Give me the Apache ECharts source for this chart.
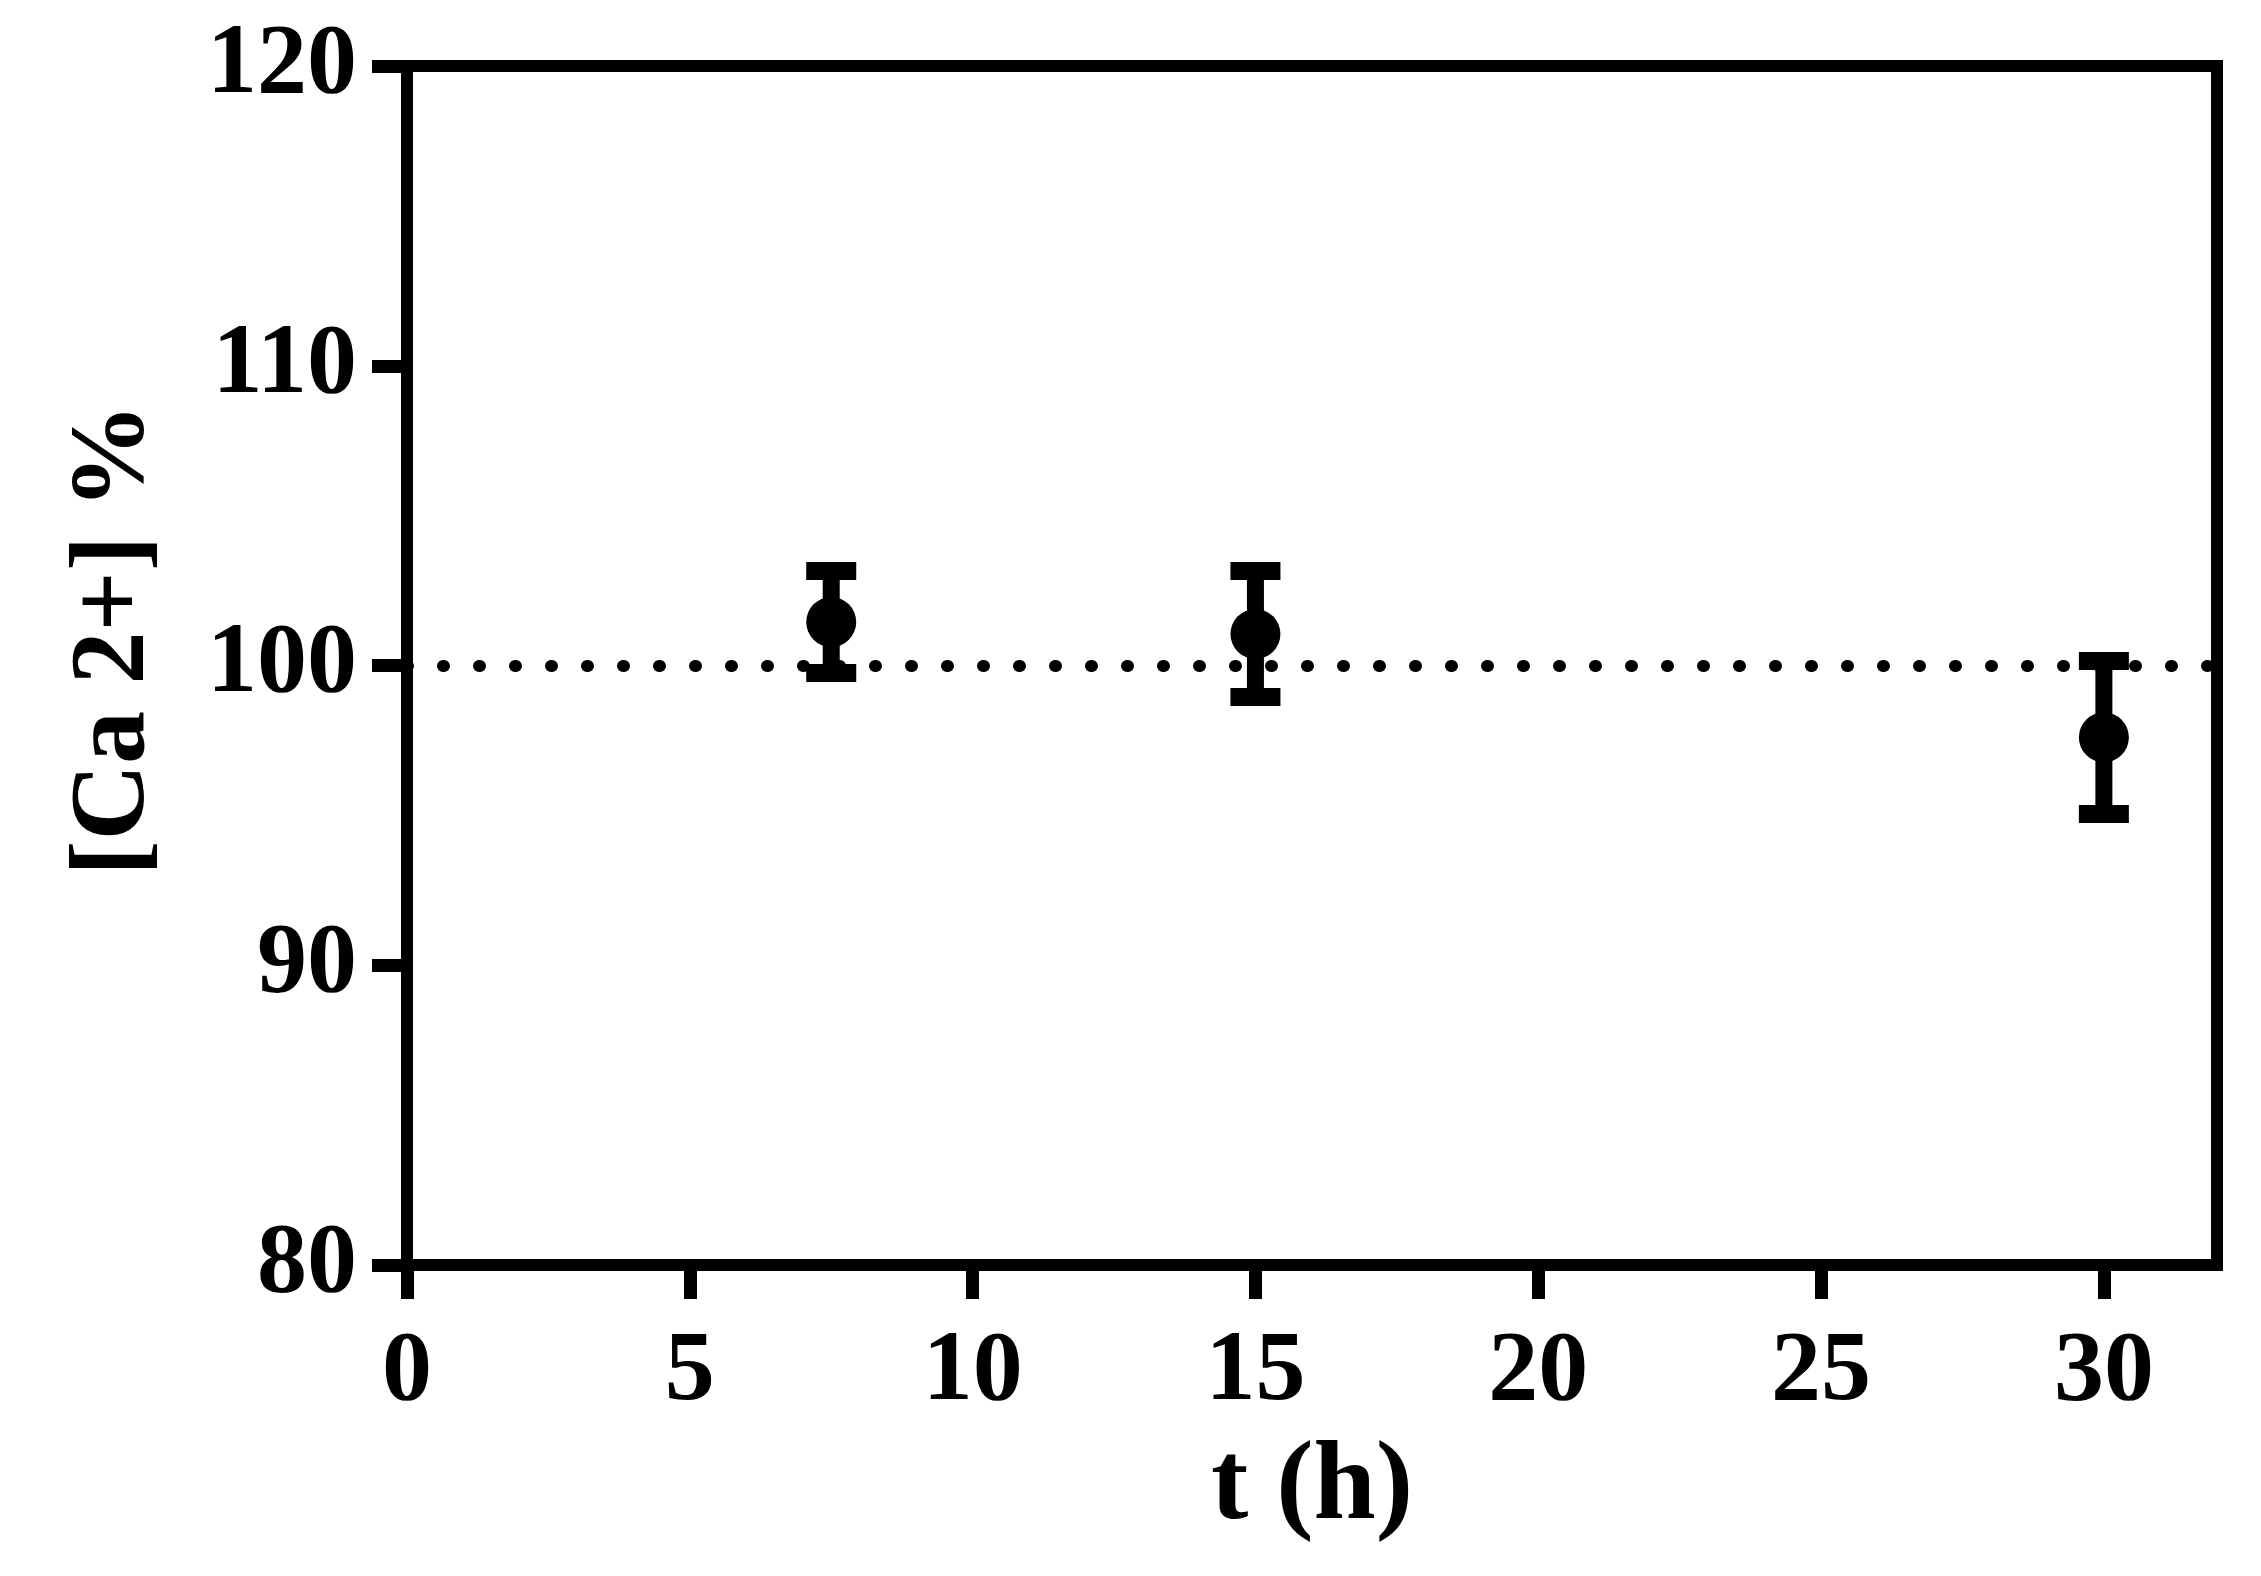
<!DOCTYPE html>
<html>
<head>
<meta charset="utf-8">
<script src="https://cdn.jsdelivr.net/npm/echarts@6/dist/echarts.min.js"></script>
<style>
html,body{margin:0;padding:0;background:#fff;}
#chart{width:2261px;height:1576px;}
</style>
</head>
<body>
<div id="chart"></div>
<script>
// Data
const timePoints = [7.5, 15, 30];          // t (h)
const meanValues = [101.45, 101.05, 97.6];  // [Ca 2+] %
const errValues = [1.7, 2.1, 2.55];         // error bar half-lengths
const referenceLevel = 100;
const xTicks = [0, 5, 10, 15, 20, 25, 30];
const yTicks = [80, 90, 100, 110, 120];

const FONT = '"Liberation Serif", "Times New Roman", serif';

const errData = timePoints.map((t, i) => [t, meanValues[i] - errValues[i], meanValues[i] + errValues[i]]);
const pointData = timePoints.map((t, i) => [t, meanValues[i]]);

const chart = echarts.init(document.getElementById('chart'), null, {renderer: 'canvas'});
chart.setOption({
  backgroundColor: '#ffffff',
  animation: false,
  grid: {
    left: 407, right: 44, top: 66, bottom: 311,
    show: true, borderColor: '#000', borderWidth: 12, backgroundColor: 'transparent'
  },
  xAxis: {
    type: 'value', min: 0, max: 32, interval: 5,
    name: 't (h)', nameLocation: 'middle', nameGap: 168,
    nameTextStyle: {fontFamily: FONT, fontWeight: 'bold', fontSize: 112, color: '#000'},
    axisLine: {show: true, lineStyle: {color: '#000', width: 12}},
    axisTick: {show: true, length: 34, lineStyle: {color: '#000', width: 13}, customValues: xTicks},
    axisLabel: {fontFamily: FONT, fontWeight: 'bold', fontSize: 100, color: '#000', margin: 58, customValues: xTicks},
    splitLine: {show: false}
  },
  yAxis: {
    type: 'value', min: 80, max: 120, interval: 10,
    name: '[Ca 2+] %', nameLocation: 'middle', nameGap: 238, nameRotate: 90,
    nameTextStyle: {fontFamily: FONT, fontWeight: 'bold', fontSize: 106, color: '#000', padding: [0, 0, 0, 52]},
    axisLine: {show: true, lineStyle: {color: '#000', width: 12}},
    axisTick: {show: true, length: 35, lineStyle: {color: '#000', width: 13}, customValues: yTicks},
    axisLabel: {fontFamily: FONT, fontWeight: 'bold', fontSize: 100, color: '#000', margin: 50, customValues: yTicks},
    splitLine: {show: false}
  },
  series: [
    {
      type: 'line', data: [], z: 1, silent: true,
      markLine: {
        silent: true, symbol: 'none', label: {show: false},
        lineStyle: {color: '#000', width: 12, type: [1, 35], cap: 'round', opacity: 1},
        data: [{yAxis: referenceLevel}]
      }
    },
    {
      type: 'custom', z: 3, data: errData,
      renderItem: function (params, api) {
        const x = api.value(0);
        const pLo = api.coord([x, api.value(1)]);
        const pHi = api.coord([x, api.value(2)]);
        const style = {fill: '#000'};
        return {
          type: 'group',
          children: [
            {type: 'rect', shape: {x: pLo[0] - 8.5, y: pHi[1], width: 17, height: pLo[1] - pHi[1]}, style: style},
            {type: 'rect', shape: {x: pHi[0] - 25, y: pHi[1] - 9, width: 50, height: 18}, style: style},
            {type: 'rect', shape: {x: pLo[0] - 25, y: pLo[1] - 9, width: 50, height: 18}, style: style}
          ]
        };
      }
    },
    {
      type: 'scatter', z: 4, data: pointData,
      symbol: 'circle', symbolSize: 50,
      itemStyle: {color: '#000', opacity: 1}
    }
  ]
});
</script>
</body>
</html>
